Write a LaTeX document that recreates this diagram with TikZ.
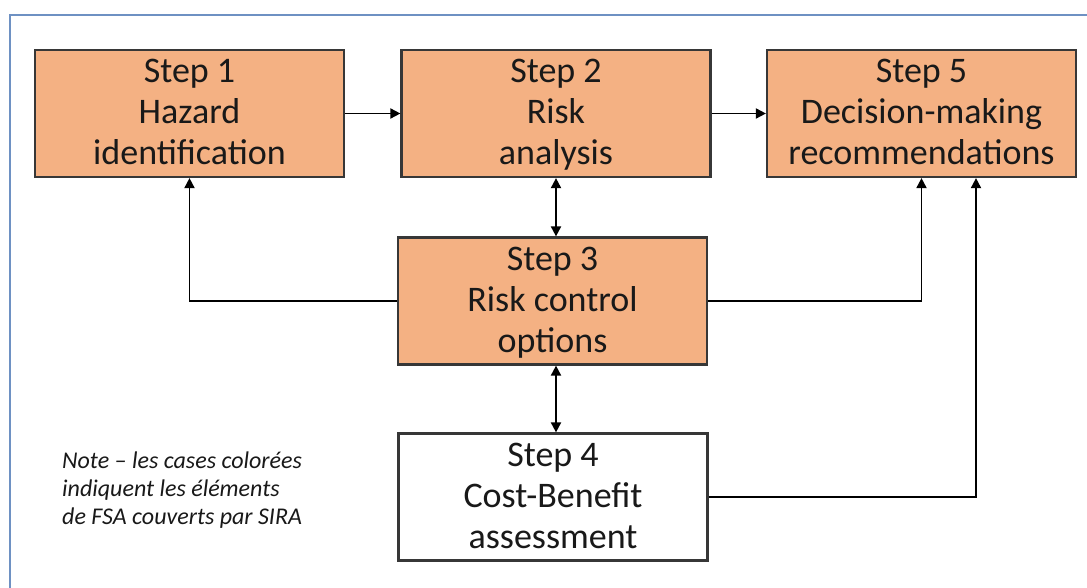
\documentclass[tikz,border=0pt]{standalone}
\usepackage{fontspec}
\setmainfont{Carlito}
\usetikzlibrary{arrows.meta}
\definecolor{boxfill}{RGB}{244,177,131}
\definecolor{boxline}{RGB}{55,55,55}
\definecolor{framecol}{RGB}{110,145,195}
\definecolor{txt}{RGB}{25,25,25}
\newcommand\topst{\rule{0pt}{31pt}}
\newcommand\botst{\rule[-10pt]{0pt}{10pt}}
\begin{document}
\begin{tikzpicture}[x=1pt,y=-1pt,
  stepbox/.style={draw=boxline, line width=2.2pt, fill=boxfill, minimum width=309pt, minimum height=127pt,
    inner sep=0pt, align=center, text=txt, font=\fontsize{36}{41}\selectfont},
  whitebox/.style={stepbox, fill=white},
  arr/.style={line width=1.8pt, draw=black, -{Triangle[length=10pt,width=10pt]}},
  darr/.style={line width=1.8pt, draw=black, {Triangle[length=10pt,width=10pt]}-{Triangle[length=10pt,width=10pt]}},
  notetext/.style={inner sep=0pt, align=left, text=txt, font=\fontsize{24}{28}\selectfont\itshape}
]
\useasboundingbox (0,0) rectangle (1087,588);
\fill[white] (0,0) rectangle (1087,588);
\draw[framecol, line width=1.8pt] (10,588) -- (10,15) -- (1087,15);

\node[stepbox] (b1) at (189.5,113.5) {\topst Step 1\\Hazard\\identification\botst};
\node[stepbox] (b2) at (556,113.5) {\topst Step 2\\Risk\\analysis\botst};
\node[stepbox] (b5) at (921.5,113.5) {\topst Step 5\\Decision-making\\recommendations\botst};
\node[stepbox] (b3) at (552.5,301) {\topst Step 3\\Risk control\\options\botst};
\node[whitebox] (b4) at (553,497) {\topst Step 4\\Cost-Benefit\\assessment\botst};

\node[notetext, anchor=west] (note) at (62,490) {Note -- les cases colorées\\indiquent les éléments\\de FSA couverts par SIRA};

\coordinate (b5in) at ([xshift=54.5pt]b5.south);

\draw[arr] (b1.east) -- (b2.west);
\draw[arr] (b2.east) -- (b5.west);
\draw[darr] (b2.south) -- (b2.south |- b3.north);
\draw[darr] (b2.south |- b3.south) -- (b2.south |- b4.north);
\draw[arr] (b3.west) -| (b1.south);
\draw[arr] (b3.east) -| (b5.south);
\draw[arr] (b4.east) -| (b5in);
\end{tikzpicture}
\end{document}
